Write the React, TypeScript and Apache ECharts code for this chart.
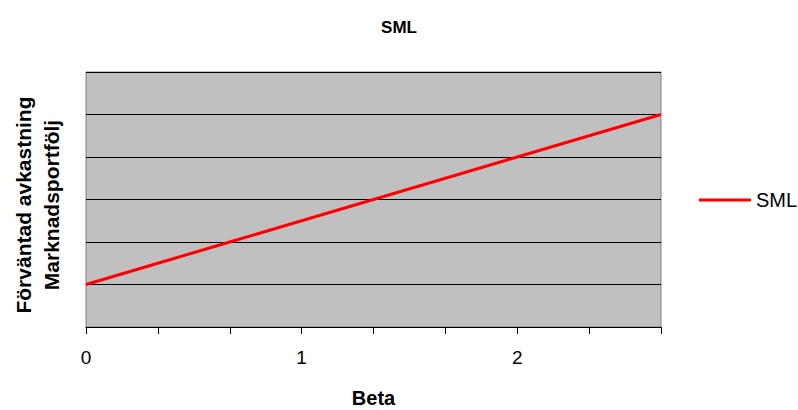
import React, { useEffect, useRef } from "react";
import * as echarts from "echarts";

const betaCategories = ["0", "0.33", "0.67", "1", "1.33", "1.67", "2", "2.33", "2.67"];
const smlValues = [0.02, 0.03, 0.04, 0.05, 0.06, 0.07, 0.08, 0.09, 0.1];
const seriesName = "SML";
const chartTitle = "SML";
const xAxisTitle = "Beta";
const yAxisTitle = "Förväntad avkastning\nMarknadsportfölj";

export default function App() {
  const ref = useRef<HTMLDivElement>(null);
  useEffect(() => {
    if (!ref.current) return;
    const chart = echarts.init(ref.current, null, { renderer: "svg" });
    const font = "Liberation Sans, Arial, sans-serif";
    chart.setOption({
      animation: false,
      textStyle: { fontFamily: font },
      title: {
        text: chartTitle,
        left: "center",
        top: 19,
        padding: 0,
        textStyle: { fontSize: 17, fontWeight: "bold", color: "#000", fontFamily: font },
      },
      legend: {
        left: 699,
        top: 190,
        padding: 0,
        itemWidth: 52,
        itemHeight: 3,
        data: [{ name: seriesName, icon: "rect" }],
        textStyle: { fontSize: 20, color: "#000", fontFamily: font },
      },
      grid: {
        left: 86,
        top: 72,
        width: 575,
        height: 255,
        show: true,
        containLabel: false,
        outerBoundsMode: "none",
        backgroundColor: "#C0C0C0",
        borderColor: "#808080",
        borderWidth: 1,
      },
      xAxis: {
        type: "category",
        data: betaCategories,
        boundaryGap: false,
        name: xAxisTitle,
        nameLocation: "middle",
        nameGap: 61,
        nameTextStyle: { fontSize: 20, fontWeight: "bold", color: "#000", fontFamily: font },
        axisLine: { lineStyle: { color: "#000", width: 1 } },
        axisTick: { show: true, interval: 0, length: 7, lineStyle: { color: "#000" } },
        axisLabel: {
          interval: 2,
          fontSize: 19,
          color: "#000",
          margin: 21,
          fontFamily: font,
          formatter: (v: string) => String(Math.round(parseFloat(v))),
        },
        splitLine: { show: false },
      },
      yAxis: {
        type: "value",
        min: 0,
        max: 0.12,
        interval: 0.02,
        name: yAxisTitle,
        nameLocation: "middle",
        nameGap: 21,
        nameRotate: 90,
        nameTextStyle: {
          fontSize: 21,
          fontWeight: "bold",
          color: "#000",
          lineHeight: 28,
          align: "center",
          padding: [0, 11, 0, 0],
          fontFamily: font,
        },
        axisLine: { show: false },
        axisTick: { show: false },
        axisLabel: { show: false },
        splitLine: { lineStyle: { color: "#000", width: 1 } },
      },
      series: [
        {
          name: seriesName,
          type: "line",
          data: smlValues,
          symbol: "none",
          lineStyle: { color: "#FF0000", width: 3 },
          itemStyle: { color: "#FF0000" },
        },
      ],
    });
    return () => chart.dispose();
  }, []);
  return (
    <div
      ref={ref}
      style={{ position: "fixed", left: 0, top: 0, width: 798, height: 410, background: "#fff" }}
    />
  );
}
